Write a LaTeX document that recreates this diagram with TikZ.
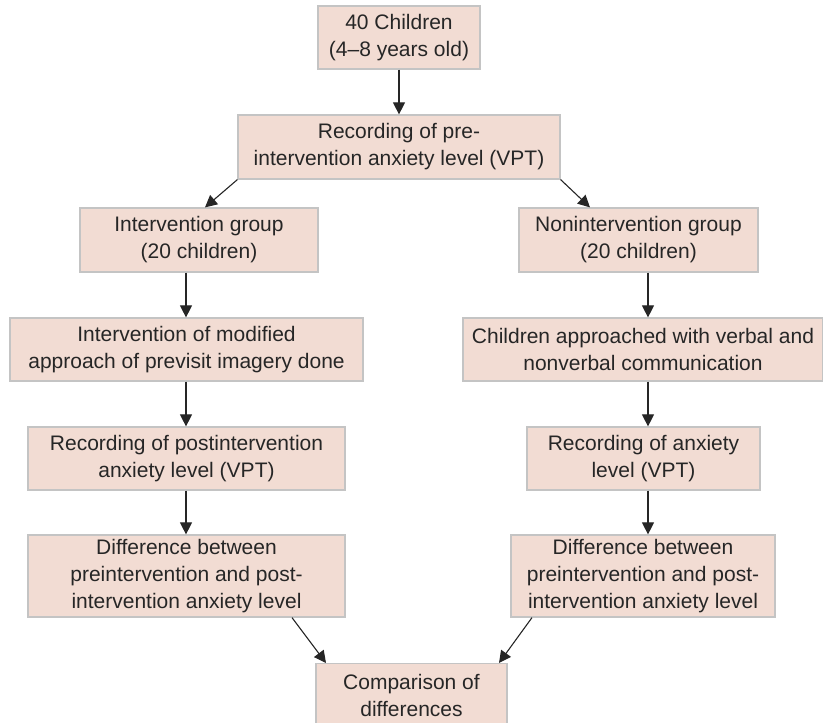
\documentclass[tikz,border=0pt]{standalone}
\usepackage{fontspec}
\setmainfont{Liberation Sans}
\usetikzlibrary{arrows.meta}
\definecolor{boxfill}{HTML}{F2DCD3}
\definecolor{boxline}{HTML}{C4C4C4}
\definecolor{txt}{HTML}{262626}
\begin{document}
\begin{tikzpicture}[x=1pt,y=-1pt,
  flowbox/.style={draw=boxline, line width=1.2pt, fill=boxfill, text=txt,
    align=center, inner sep=0pt, font=\fontsize{21}{27}\selectfont},
  conn/.style={-{Triangle[length=12pt,width=12pt]}, line width=1.1pt, draw=txt}]
\useasboundingbox (0,0) rectangle (823,723);
\node[flowbox, minimum width=162, minimum height=63] (a) at (399,37.5) {40 Children\\(4–8 years old)};
\node[flowbox, minimum width=322, minimum height=64] (b) at (399,147) {Recording of pre-\\intervention anxiety level (VPT)};
\node[flowbox, minimum width=238, minimum height=64] (c) at (199,240) {Intervention group\\(20 children)};
\node[flowbox, minimum width=239, minimum height=64] (d) at (638.5,240) {Nonintervention group\\(20 children)};
\node[flowbox, minimum width=353, minimum height=63] (e) at (186.5,349.5) {Intervention of modified\\approach of previsit imagery done};
\node[flowbox, minimum width=360, minimum height=63] (f) at (643,349.5) {Children approached with verbal and\\nonverbal communication};
\node[flowbox, minimum width=317, minimum height=63] (g) at (186.5,458.5) {Recording of postintervention\\anxiety level (VPT)};
\node[flowbox, minimum width=233, minimum height=63] (h) at (643.5,458.5) {Recording of anxiety\\level (VPT)};
\node[flowbox, minimum width=317, minimum height=82] (i) at (186.5,576) {Difference between\\preintervention and post-\\intervention anxiety level};
\node[flowbox, minimum width=264, minimum height=82] (j) at (643,576) {Difference between\\preintervention and post-\\intervention anxiety level};
\node[flowbox, minimum width=191, minimum height=64, anchor=north] (k) at (411.5,663) {Comparison of\\differences};
\draw[conn] (a.south) -- (b.north);
\draw[conn] (b.south west) -- (c.north -| 205,0);
\draw[conn] (b.south east) -- (d.north -| 590,0);
\draw[conn] (c.south -| 186,0) -- (e.north -| 186,0);
\draw[conn] (e.south -| 186,0) -- (g.north -| 186,0);
\draw[conn] (g.south -| 186,0) -- (i.north -| 186,0);
\draw[conn] (d.south -| 648,0) -- (f.north -| 648,0);
\draw[conn] (f.south -| 648,0) -- (h.north -| 648,0);
\draw[conn] (h.south -| 648,0) -- (j.north -| 648,0);
\draw[conn] (i.south -| 292,0) -- (k.north -| 326,0);
\draw[conn] (j.south -| 532,0) -- (k.north -| 499,0);
\end{tikzpicture}
\end{document}
